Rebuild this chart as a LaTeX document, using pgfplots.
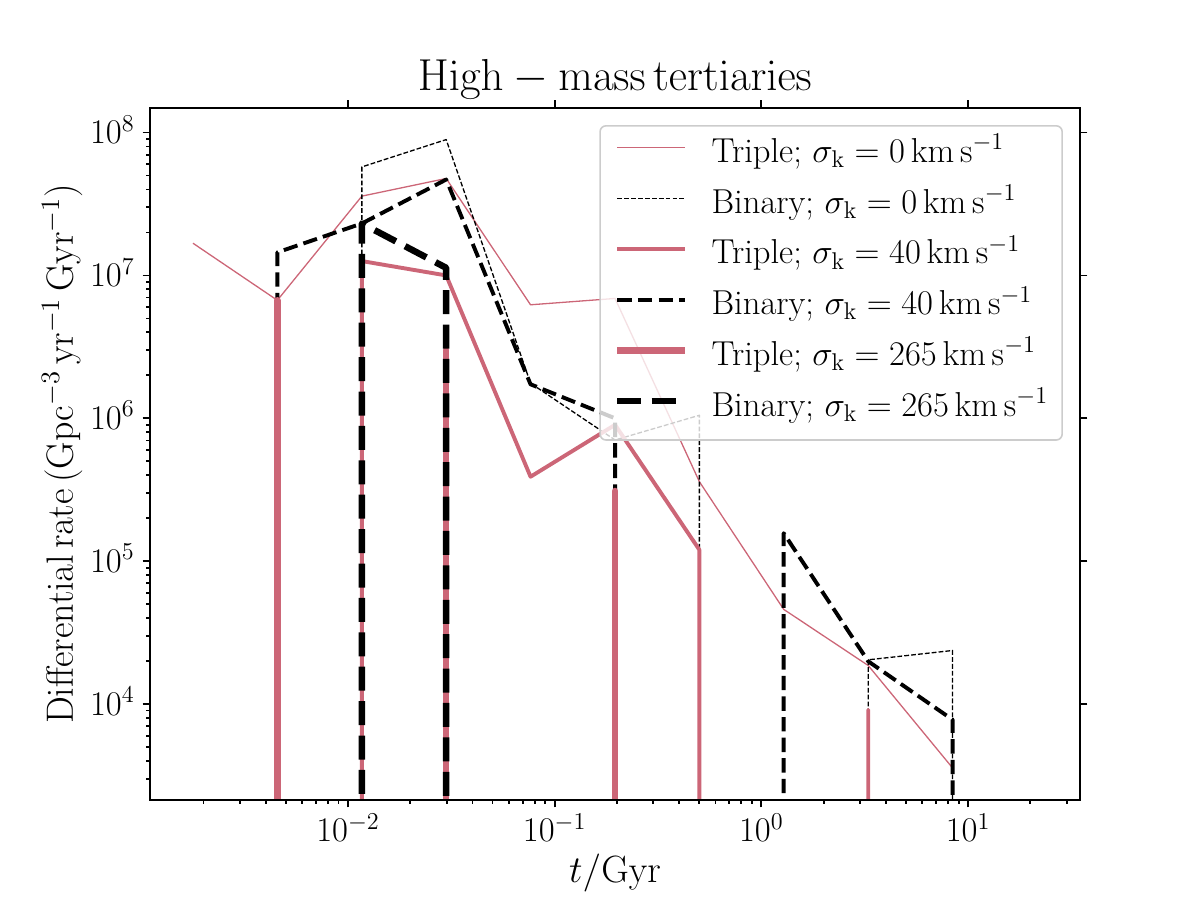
\RequirePackage{fix-cm}
\documentclass[border=0pt]{standalone}
\usepackage{pgfplots}
\pgfplotsset{compat=1.18}
\definecolor{rose}{RGB}{204,102,119}
\newcommand{\bigfont}{\fontsize{17.3}{21}\selectfont}
\newcommand{\labfont}{\fontsize{19}{23}\selectfont}
\begin{document}
\begin{tikzpicture}
\path[use as bounding box] (0,0) rectangle (600pt,450pt);
\begin{axis}[
  at={(75pt,50pt)}, anchor=south west,
  scale only axis, width=465pt, height=346pt,
  xmode=log, ymode=log,
  xmin=1.101e-3, xmax=34.8, ymin=2.13e3, ymax=1.486e8,
  axis line style={line width=0.9pt},
  every tick/.style={black, line width=0.9pt},
  tick align=outside,
  xtick pos=left, ytick pos=left,
  major tick length=3.75pt, minor tick length=2pt,
  tick label style={font=\bigfont},
  xticklabel style={anchor=base, inner sep=0pt, yshift=-17.1pt},
  yticklabel style={anchor=base east, inner sep=0pt, xshift=-3.75pt, yshift=-5.6pt},
  title={$\mathrm{High-mass\,tertiaries}$},
  title style={at={(axis description cs:0.5,1.0079)}, anchor=base, font=\fontsize{22.4}{26}\selectfont, inner sep=0pt},
  xlabel={$t/\mathrm{Gyr}$},
  xlabel style={at={(axis description cs:0.5,-0.1199)}, anchor=base, font=\labfont, inner sep=0pt},
  ylabel={$\mathrm{Differential\,rate\,(Gpc^{-3}\,yr^{-1}\,Gyr^{-1})}$},
  ylabel style={at={(axis description cs:-0.0828,0.5)}, anchor=base, rotate=0, font=\labfont, inner sep=0pt},
  legend cell align=left,
  legend image code/.code={\draw[#1] (0pt,4.25pt) -- (34pt,4.25pt);},
  legend style={at={(axis description cs:0.9817,0.9754)}, anchor=north east,
    draw=black!20, line width=0.8pt, rounded corners=3pt, fill=white, fill opacity=0.8, text opacity=1,
    font=\bigfont, inner xsep=7pt, inner ysep=2.5pt, row sep=0pt,
    nodes={inner xsep=0pt, inner ysep=0pt, text height=15.85pt, text depth=9.5pt},
    /tikz/every odd column/.append style={column sep=11.5pt}},
  line join=round,
]
\addplot[rose, line width=0.65pt] coordinates {(1.778e-3,1.68e7)(4.55e-3,6.7e6)(1.167e-2,3.59e7)(2.985e-2,4.77e7)(7.64e-2,6.23e6)(0.1959,6.9e6)(0.5012,3.6e5)(1.282,4.6e4)(3.289,1.86e4)(8.414,3.57e3)};
\addlegendentry{Triple; $\sigma_\mathrm{k}=0\,\mathrm{km\,s^{-1}}$}
\addplot[black, line width=0.65pt, dash pattern=on 2.4pt off 1.05pt] coordinates {(1.167e-2,1)(1.167e-2,5.75e7)(2.985e-2,8.93e7)(7.64e-2,1.76e6)(0.1959,7.05e5)(0.5012,1.05e6)(0.5012,1)(3.289,1)(3.289,2.04e4)(8.414,2.37e4)(8.414,1)};
\addlegendentry{Binary; $\sigma_\mathrm{k}=0\,\mathrm{km\,s^{-1}}$}
\addplot[rose, line width=1.95pt] coordinates {(1.167e-2,1)(1.167e-2,1.26e7)(2.985e-2,1.0e7)(7.64e-2,3.9e5)(0.1959,9.0e5)(0.5012,1.2e5)(0.5012,1)(3.289,1)(3.289,9.1e3)(3.289,1)};
\addlegendentry{Triple; $\sigma_\mathrm{k}=40\,\mathrm{km\,s^{-1}}$}
\addplot[black, line width=1.95pt, dash pattern=on 7.2pt off 3.1pt] coordinates {(4.55e-3,1)(4.55e-3,1.45e7)(1.167e-2,2.31e7)(2.985e-2,4.69e7)(7.64e-2,1.73e6)(0.1959,1.0e6)(0.1959,1)(1.282,1)(1.282,1.57e5)(3.289,1.99e4)(8.414,7.77e3)(8.414,1)};
\addlegendentry{Binary; $\sigma_\mathrm{k}=40\,\mathrm{km\,s^{-1}}$}
\addplot[rose, line width=3.25pt] coordinates {(4.55e-3,1)(4.55e-3,6.7e6)(4.55e-3,1)(2.985e-2,1)(2.985e-2,3.0e6)(2.985e-2,1)(0.1959,1)(0.1959,3.1e5)(0.1959,1)};
\addlegendentry{Triple; $\sigma_\mathrm{k}=265\,\mathrm{km\,s^{-1}}$}
\addplot[black, line width=3.25pt, dash pattern=on 12pt off 5.2pt] coordinates {(1.167e-2,1)(1.167e-2,2.31e7)(2.985e-2,1.13e7)(2.985e-2,1)};
\addlegendentry{Binary; $\sigma_\mathrm{k}=265\,\mathrm{km\,s^{-1}}$}
\end{axis}
\begin{axis}[
  at={(75pt,50pt)}, anchor=south west,
  scale only axis, width=465pt, height=346pt,
  xmode=log, ymode=log,
  xmin=1.101e-3, xmax=34.8, ymin=2.13e3, ymax=1.486e8,
  axis line style={line width=0.9pt},
  every tick/.style={black, line width=0.9pt},
  tick align=outside,
  xtick pos=right, ytick pos=right,
  major tick length=3.75pt, minor tick length=0pt,
  xticklabel=\empty, yticklabel=\empty,
]
\end{axis}
\end{tikzpicture}
\end{document}
